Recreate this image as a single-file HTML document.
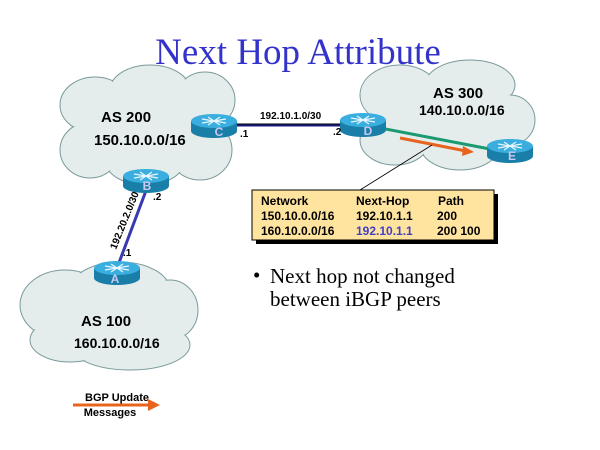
<!DOCTYPE html>
<html><head><style>
body{margin:0;background:#fff;}
svg{display:block;font-family:"Liberation Sans",Arial,sans-serif;}
</style></head><body>
<svg width="600" height="450" viewBox="0 0 600 450" xmlns="http://www.w3.org/2000/svg">
<defs>
<g id="rt">
  <ellipse cx="0" cy="10" rx="23" ry="7" fill="#1a7fa8"/>
  <rect x="-23" y="0" width="46" height="10" fill="#1a7fa8"/>
  <ellipse cx="0" cy="0" rx="23" ry="7" fill="#3aaede"/>
  <path d="M-12 -2 L12 2 M-12 2 L12 -2 M-6 -4 L6 4 M6 -4 L-6 4" stroke="#e8f6ff" stroke-width="1.2"/>
</g>
</defs>
<text x="298" y="64" text-anchor="middle" font-family="Liberation Serif,serif" font-size="37" fill="#3333cc">Next Hop Attribute</text>

<!-- clouds -->
<g fill="#e4ecec" stroke="#7a9a9a" stroke-width="1">
 <g><ellipse cx="95" cy="105" rx="35" ry="28"/><ellipse cx="150" cy="90" rx="40" ry="25"/><ellipse cx="205" cy="100" rx="30" ry="28"/><ellipse cx="200" cy="150" rx="32" ry="30"/><ellipse cx="145" cy="160" rx="40" ry="25"/><ellipse cx="90" cy="150" rx="30" ry="28"/></g>
 <g><ellipse cx="400" cy="95" rx="40" ry="30"/><ellipse cx="470" cy="85" rx="45" ry="25"/><ellipse cx="510" cy="120" rx="25" ry="25"/><ellipse cx="460" cy="145" rx="40" ry="25"/><ellipse cx="395" cy="140" rx="35" ry="25"/></g>
 <g><ellipse cx="65" cy="305" rx="45" ry="35"/><ellipse cx="120" cy="290" rx="50" ry="28"/><ellipse cx="170" cy="310" rx="28" ry="30"/><ellipse cx="130" cy="345" rx="60" ry="25"/><ellipse cx="70" cy="340" rx="40" ry="22"/></g>
</g>
<g fill="#e4ecec">
 <ellipse cx="95" cy="105" rx="34" ry="27"/><ellipse cx="150" cy="90" rx="39" ry="24"/><ellipse cx="205" cy="100" rx="29" ry="27"/><ellipse cx="200" cy="150" rx="31" ry="29"/><ellipse cx="145" cy="160" rx="39" ry="24"/><ellipse cx="90" cy="150" rx="29" ry="27"/><rect x="90" y="100" width="110" height="55"/>
 <ellipse cx="400" cy="95" rx="39" ry="29"/><ellipse cx="470" cy="85" rx="44" ry="24"/><ellipse cx="510" cy="120" rx="24" ry="24"/><ellipse cx="460" cy="145" rx="39" ry="24"/><ellipse cx="395" cy="140" rx="34" ry="24"/><rect x="400" y="95" width="100" height="50"/>
 <ellipse cx="65" cy="305" rx="44" ry="34"/><ellipse cx="120" cy="290" rx="49" ry="27"/><ellipse cx="170" cy="310" rx="27" ry="29"/><ellipse cx="130" cy="345" rx="59" ry="24"/><ellipse cx="70" cy="340" rx="39" ry="21"/><rect x="60" y="290" width="110" height="55"/>
</g>

<!-- links -->
<line x1="235" y1="125" x2="350" y2="125" stroke="#1a1a80" stroke-width="3"/>
<line x1="237" y1="124" x2="348" y2="124" stroke="#000" stroke-width="1"/>
<line x1="147" y1="188" x2="117" y2="268" stroke="#3a3ab0" stroke-width="3"/>
<line x1="375" y1="127" x2="495" y2="150" stroke="#1a9a70" stroke-width="3"/>
<line x1="400" y1="138" x2="466" y2="151" stroke="#e8641e" stroke-width="3"/>
<polygon points="474,152 463,146 462,156" fill="#e8641e"/>
<line x1="432" y1="145" x2="360" y2="190" stroke="#000" stroke-width="0.8"/>

<!-- routers -->
<use href="#rt" x="214" y="121"/>
<use href="#rt" x="146" y="176"/>
<use href="#rt" x="117" y="268"/>
<use href="#rt" x="363" y="120"/>
<use href="#rt" x="510" y="146"/>
<g fill="#c8c8f0" font-weight="bold" font-size="12" text-anchor="middle">
<text x="219" y="136">C</text><text x="147" y="190">B</text><text x="115" y="283">A</text><text x="368" y="135">D</text><text x="512" y="160">E</text>
</g>

<g font-weight="bold" fill="#000">
<text x="101" y="122" font-size="15">AS 200</text>
<text x="94" y="145" font-size="15">150.10.0.0/16</text>
<text x="433" y="98" font-size="15">AS 300</text>
<text x="419" y="115" font-size="14">140.10.0.0/16</text>
<text x="81" y="326" font-size="15">AS 100</text>
<text x="74" y="348" font-size="14">160.10.0.0/16</text>
<text x="260" y="119" font-size="10">192.10.1.0/30</text>
<text x="240" y="137" font-size="10">.1</text>
<text x="333" y="135" font-size="10">.2</text>
<text x="153" y="200" font-size="10">.2</text>
<text x="123" y="256" font-size="10">.1</text>
<text x="0" y="0" font-size="10" transform="translate(116,250) rotate(-68)">192.20.2.0/30</text>
<text x="117" y="401" font-size="11" text-anchor="middle">BGP Update</text>
<text x="110" y="416" font-size="11" text-anchor="middle">Messages</text>
</g>
<line x1="73" y1="405" x2="150" y2="405" stroke="#e8641e" stroke-width="3"/>
<polygon points="160,405 148,399 148,411" fill="#e8641e"/>

<!-- table -->
<rect x="256" y="194" width="242" height="50" fill="#000"/>
<rect x="252" y="190" width="242" height="50" fill="#ffe4a0" stroke="#000" stroke-width="1"/>
<g font-weight="bold" font-size="12">
<text x="261" y="205">Network</text><text x="356" y="205">Next-Hop</text><text x="438" y="205">Path</text>
<text x="261" y="220">150.10.0.0/16</text><text x="356" y="220">192.10.1.1</text><text x="437" y="220">200</text>
<text x="261" y="235">160.10.0.0/16</text><text x="356" y="235" fill="#4040c0">192.10.1.1</text><text x="437" y="235">200 100</text>
</g>
<g font-family="Liberation Serif,serif" font-size="21">
<text x="253" y="282">•</text>
<text x="270" y="283">Next hop not changed</text>
<text x="270" y="306">between iBGP peers</text>
</g>
</svg>
</body></html>
